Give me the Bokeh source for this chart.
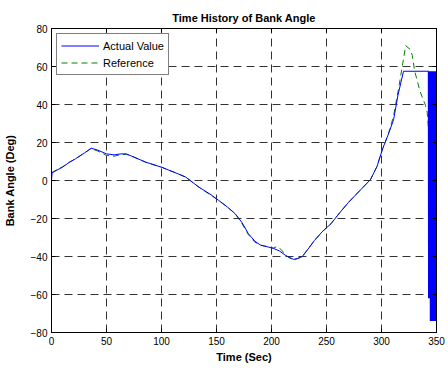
from bokeh.plotting import figure
from bokeh.models import Range1d, LinearAxis, FixedTicker, Legend, LegendItem, CustomJSTickFormatter
from bokeh.embed import file_html
from bokeh.resources import INLINE

# Actual Value (smooth part)
actual_t = [0, 0.5, 5, 10, 16, 22, 30, 36, 42, 50, 57, 63, 68, 75, 86, 100, 113, 122,
            134, 145, 152, 160, 167, 173, 179, 185, 190, 197, 202, 207, 213, 220, 224,
            228, 234, 239, 246, 254, 262, 270, 280, 290, 296, 301, 306, 311, 315, 320, 343]
actual_v = [0, 4, 5.5, 7, 9.5, 11.5, 14.5, 17, 16, 14, 13.5, 14, 14, 12.3, 9.6, 7, 4, 1.8,
            -3.5, -7.5, -10.5, -14, -17.5, -22, -28, -32, -34, -35, -35.8, -37, -39.5, -41.5, -41,
            -40, -35.5, -31.6, -27, -22.8, -17, -11.5, -5.5, 0.5, 7.5, 16.7, 24, 32, 45, 57.5, 57.5]
# Actual Value chattering at the end (saturated oscillation)
chatter_t = [343.0, 343.2, 343.4, 343.6, 343.8, 344.0, 344.2, 344.4, 344.6, 344.8,
             345.0, 345.2, 345.4, 345.6, 345.8, 346.0, 346.2, 346.4, 346.6, 346.8,
             347.0, 347.2, 347.4, 347.6, 347.8, 348.0, 348.2, 348.4, 348.6, 348.8,
             349.0, 349.2, 349.4, 349.6, 349.8, 350.0, 350.2, 350.4]
chatter_v = [57.5, -62, 57.5, -62, 57.5, -62, 57.5, -62, 57.5, -74,
             57.5, -74, 57.5, -74, 57.5, -74, 57.5, -74, 57.5, -74,
             57.5, -74, 57.5, -74, 57.5, -74, 57.5, -74, 57.5, -74,
             57.5, -74, 57.5, -74, 57.5, -74, 57.5, -74]

# Reference
ref_t = [0, 5, 10, 16, 22, 30, 36, 42, 50, 57, 63, 68, 75, 86, 100, 113, 122,
         134, 145, 152, 160, 167, 173, 179, 185, 190, 197, 202, 205, 209, 213, 220, 224,
         228, 234, 239, 246, 254, 262, 270, 280, 290, 296, 301, 306, 311, 316, 319, 322,
         326, 328, 330, 335, 340, 341.5, 343.6, 346, 348]
ref_v = [4, 5.8, 7.2, 9.5, 11.5, 14.5, 16.8, 15.5, 13.2, 12.8, 13.6, 13.8, 12.3, 9.5, 7, 4, 1.8,
         -3.5, -7.8, -10.5, -14, -17.5, -22.5, -28.5, -32.5, -34, -35, -35.5, -34.8, -36.5, -39.5, -42, -41,
         -40, -35.5, -31.6, -27, -22.8, -17, -11.5, -5.5, 0.5, 7.5, 16.7, 24, 34, 50, 60.5, 71,
         69, 65.8, 58, 47, 39.5, 36, 21, 8.8, 0]

x_ticks = [0, 50, 100, 150, 200, 250, 300, 350]
y_ticks = [-80, -60, -40, -20, 0, 20, 40, 60, 80]

FONT = "Liberation Sans"

p = figure(width=448, height=370, output_backend="svg", toolbar_location=None,
           x_range=Range1d(0, 350), y_range=Range1d(-80, 80),
           min_border_left=48, min_border_right=12, min_border_top=28, min_border_bottom=38)
p.background_fill_color = "white"
p.border_fill_color = "white"
p.outline_line_color = "black"
p.outline_line_width = 1

p.title.text = "Time History of Bank Angle"
p.title.align = "center"
p.title.text_font = FONT
p.title.text_font_size = "11px"
p.title.text_font_style = "bold"
p.title.text_color = "black"

for ax in [p.xaxis[0], p.yaxis[0]]:
    ax.major_tick_in = 4
    ax.major_tick_out = 0
    ax.minor_tick_line_color = None
    ax.axis_line_color = "black"
    ax.major_tick_line_color = "black"
    ax.major_label_text_font = FONT
    ax.major_label_text_font_size = "10px"
    ax.major_label_text_color = "black"
    ax.axis_label_text_font = FONT
    ax.axis_label_text_font_size = "11px"
    ax.axis_label_text_font_style = "bold"
    ax.axis_label_text_color = "black"
    ax.major_label_standoff = 4

p.xaxis.ticker = FixedTicker(ticks=x_ticks)
p.yaxis.ticker = FixedTicker(ticks=y_ticks)
p.xaxis.axis_label = "Time (Sec)"
p.yaxis.axis_label = "Bank Angle (Deg)"
p.xaxis.axis_label_standoff = 3
p.yaxis.axis_label_standoff = 12

blank = CustomJSTickFormatter(code="return '';")
top = LinearAxis(ticker=FixedTicker(ticks=x_ticks), major_tick_in=4, major_tick_out=0,
                 minor_tick_line_color=None, formatter=blank,
                 major_label_standoff=0, axis_line_color="black")
right = LinearAxis(ticker=FixedTicker(ticks=y_ticks), major_tick_in=4, major_tick_out=0,
                   minor_tick_line_color=None, formatter=blank,
                   major_label_standoff=0, axis_line_color="black")
p.add_layout(top, "above")
p.add_layout(right, "right")

for g in [p.xgrid[0], p.ygrid[0]]:
    g.grid_line_color = "#333333"
    g.grid_line_dash = "8 5"
    g.grid_line_width = 1

r2 = p.line(ref_t, ref_v, line_color="#008000", line_width=1, line_dash="6 4")
r1 = p.line(actual_t, actual_v, line_color="#0000ff", line_width=1)
p.line(chatter_t, chatter_v, line_color="#0000ff", line_width=2)

legend = Legend(items=[LegendItem(label="Actual Value", renderers=[r1]),
                       LegendItem(label="Reference", renderers=[r2])],
                location="top_left")
legend.label_text_font = FONT
legend.label_text_font_size = "11px"
legend.label_text_color = "black"
legend.border_line_color = "black"
legend.border_line_width = 1
legend.background_fill_color = "white"
legend.background_fill_alpha = 1
legend.glyph_width = 38
legend.glyph_height = 15
legend.label_height = 15
legend.label_standoff = 4
legend.spacing = 2
legend.padding = 4
legend.margin = 5
p.add_layout(legend)

open("out.html", "w").write(file_html(p, INLINE))
